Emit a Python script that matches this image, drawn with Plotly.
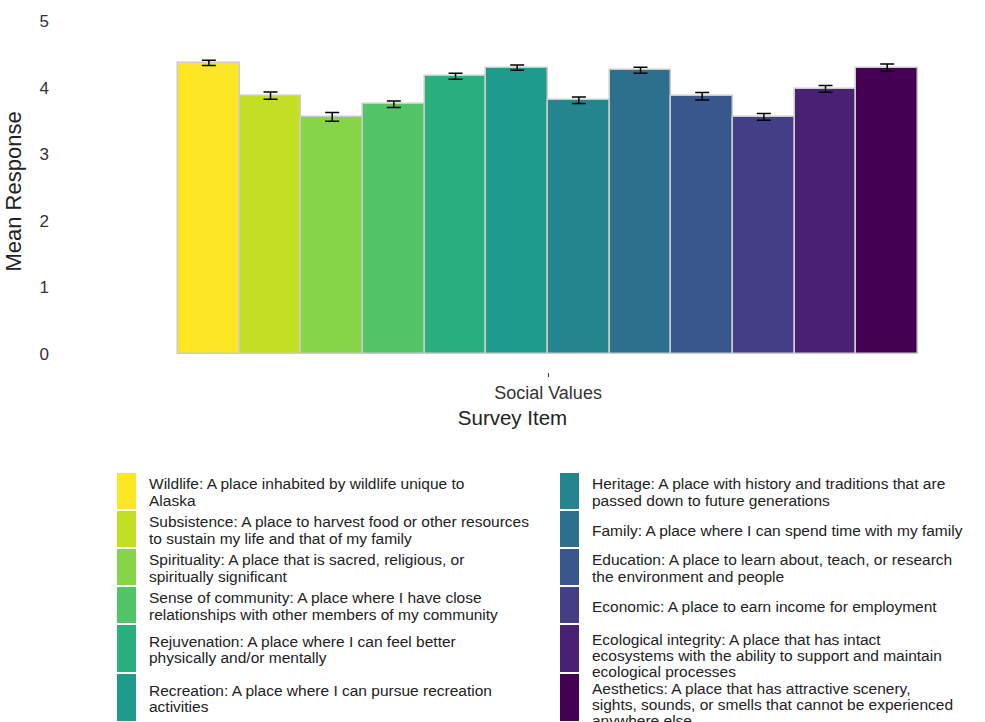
import plotly.graph_objects as go

# ---------------- data ----------------
category = ["Social Values"]
items = ["Wildlife", "Subsistence", "Spirituality", "Sense of community",
         "Rejuvenation", "Recreation", "Heritage", "Family", "Education",
         "Economic", "Ecological integrity", "Aesthetics"]
means = [4.37, 3.88, 3.56, 3.75, 4.17, 4.30, 3.81, 4.26, 3.87, 3.56, 3.98, 4.30]
errors = [0.04, 0.055, 0.065, 0.05, 0.045, 0.04, 0.05, 0.045, 0.055, 0.05, 0.05, 0.055]
legend_lines = [
    ["Wildlife: A place inhabited by wildlife unique to", "Alaska"],
    ["Subsistence: A place to harvest food or other resources", "to sustain my life and that of my family"],
    ["Spirituality: A place that is sacred, religious, or", "spiritually significant"],
    ["Sense of community: A place where I have close", "relationships with other members of my community"],
    ["Rejuvenation: A place where I can feel better", "physically and/or mentally"],
    ["Recreation: A place where I can pursue recreation", "activities"],
    ["Heritage: A place with history and traditions that are", "passed down to future generations"],
    ["Family: A place where I can spend time with my family"],
    ["Education: A place to learn about, teach, or research", "the environment and people"],
    ["Economic: A place to earn income for employment"],
    ["Ecological integrity: A place that has intact", "ecosystems with the ability to support and maintain", "ecological processes"],
    ["Aesthetics: A place that has attractive scenery,", "sights, sounds, or smells that cannot be experienced", "anywhere else"],
]
y_ticks = [0, 1, 2, 3, 4, 5]

# ---------------- styles ----------------
colors = ["#fde725", "#c2df23", "#86d549", "#52c569", "#2ab07f", "#1e9b8a",
          "#25858e", "#2d708e", "#38588c", "#433e85", "#482173", "#440154"]
FONT = "Liberation Sans, Arial, sans-serif"
W, H = 985, 722
ML, MR, MT, MB = 50, 10, 11, 350
PW, PH = W - ML - MR, H - MT - MB

fig = go.Figure()
for i, name in enumerate(items):
    fig.add_trace(go.Bar(
        x=category, y=[means[i]], name=name,
        marker=dict(color=colors[i], line=dict(color="#cccccc", width=1.5)),
        error_y=dict(type="data", array=[errors[i]], color="black", thickness=1.5, width=7),
        showlegend=False,
    ))

# custom legend: two columns, rows sized by the tallest label in the row
def px_to_paper_x(px):
    return (px - ML) / PW

def px_to_paper_y(py):
    return (H - MB - py) / PH

shapes, annots = [], []
line_h = 16.2
col_box_x = [117, 560]
col_text_x = [148, 591]
box_w = 19
top = 473
for r in range(6):
    left_i, right_i = r, r + 6
    n = max(len(legend_lines[left_i]), len(legend_lines[right_i]))
    row_h = 11 * n + 16
    for c, idx in enumerate([left_i, right_i]):
        shapes.append(dict(
            type="rect", xref="paper", yref="paper",
            x0=px_to_paper_x(col_box_x[c]), x1=px_to_paper_x(col_box_x[c] + box_w),
            y0=px_to_paper_y(top + row_h - 2), y1=px_to_paper_y(top),
            fillcolor=colors[idx], line=dict(width=0), layer="above"))
        lines = legend_lines[idx]
        if len(lines) == 3:
            start = top + 14
        else:
            center = top + (row_h - 2) / 2 + 1
            start = center - line_h * (len(lines) - 1) / 2
        for k, txt in enumerate(lines):
            annots.append(dict(
                text=txt, xref="paper", yref="paper",
                x=px_to_paper_x(col_text_x[c]), y=px_to_paper_y(start + k * line_h),
                xanchor="left", yanchor="middle", showarrow=False, borderpad=0,
                font=dict(family=FONT, size=15.5, color="#222222")))
    top += row_h

fig.update_layout(
    width=W, height=H,
    margin=dict(l=ML, r=MR, t=MT, b=MB, autoexpand=False),
    paper_bgcolor="white", plot_bgcolor="white",
    barmode="group", bargap=0.0, bargroupgap=0.0,
    font=dict(family=FONT, size=17, color="#333333"),
    xaxis=dict(
        range=[-0.673, 0.577], showgrid=False, zeroline=False, showline=False,
        ticks="outside", ticklen=4, tickcolor="#333333", tickwidth=1,
        tickfont=dict(size=18, color="#333333"),
        title=dict(text="Survey Item", font=dict(size=20.5, color="#222222"), standoff=9),
    ),
    yaxis=dict(
        range=[-0.27, 5.15], tickvals=y_ticks, showgrid=False, zeroline=False,
        showline=False, tickfont=dict(size=17, color="#333333"),
        title=dict(text="Mean Response", font=dict(size=22, color="#222222"), standoff=11),
    ),
    shapes=shapes, annotations=annots,
)

fig.write_html("out.html")
